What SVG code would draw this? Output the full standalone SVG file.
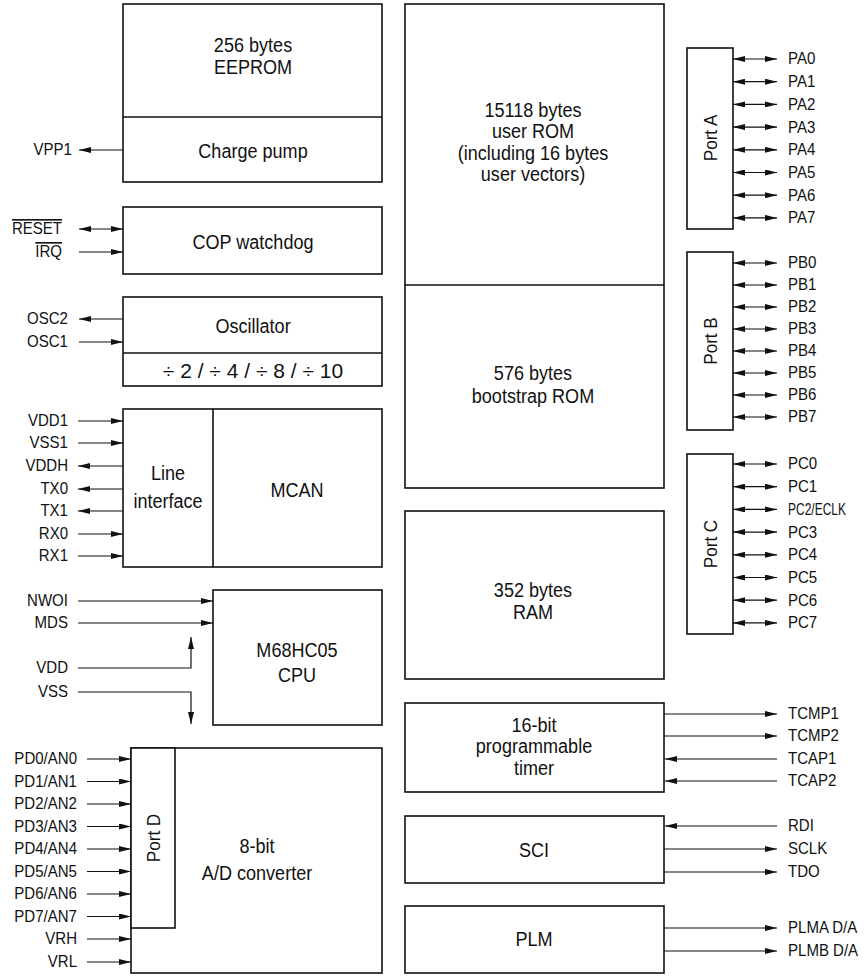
<svg xmlns="http://www.w3.org/2000/svg" width="866" height="976" viewBox="0 0 866 976">
<style>
.box{fill:#fff;stroke:#111;stroke-width:1.6}
.dv{stroke:#111;stroke-width:1.6;fill:none}
.t{font-family:"Liberation Sans",Arial,sans-serif;font-size:21px;fill:#111;text-anchor:middle;transform:scaleX(0.86);transform-box:fill-box;transform-origin:center}
.d{font-family:"Liberation Sans",Arial,sans-serif;font-size:21px;fill:#111;text-anchor:middle}
.pt{font-family:"Liberation Sans",Arial,sans-serif;font-size:19px;fill:#111;text-anchor:middle}
.p{font-family:"Liberation Sans",Arial,sans-serif;font-size:16px;fill:#111;transform:scaleX(0.94);transform-box:fill-box;transform-origin:left center}
.r{text-anchor:end;transform-origin:right center}
.w{stroke:#111;stroke-width:1.2;fill:none;marker-end:url(#ah)}
.b{marker-start:url(#ah)}
</style>
<defs>
<marker id="ah" markerWidth="12" markerHeight="6" refX="12" refY="3" orient="auto-start-reverse" markerUnits="userSpaceOnUse"><path d="M0,0 L12,3 L0,6 z" fill="#111"/></marker>
</defs>

<g id="eeprom">
<rect class="box" x="123" y="4" width="259" height="178"/>
<line class="dv" x1="123" y1="117" x2="382" y2="117"/>
<text class="t" x="253" y="52"><tspan x="253">256 bytes</tspan><tspan x="253" dy="22">EEPROM</tspan></text>
<text class="t" x="253" y="158">Charge pump</text>
</g>
<g id="cop">
<rect class="box" x="123" y="207" width="259" height="67"/>
<text class="t" x="253" y="249">COP watchdog</text>
</g>
<g id="osc">
<rect class="box" x="123" y="297" width="259" height="89"/>
<line class="dv" x1="123" y1="353" x2="382" y2="353"/>
<text class="t" x="253" y="333">Oscillator</text>
<text class="d" x="253" y="378">÷ 2 / ÷ 4 / ÷ 8 / ÷ 10</text>
</g>
<g id="mcan">
<rect class="box" x="123" y="409" width="259" height="158"/>
<line class="dv" x1="213" y1="409" x2="213" y2="567"/>
<text class="t" x="168" y="480"><tspan x="168">Line</tspan><tspan x="168" dy="28">interface</tspan></text>
<text class="t" x="297" y="497">MCAN</text>
</g>
<g id="cpu">
<rect class="box" x="213" y="590" width="169" height="135"/>
<text class="t" x="297" y="657"><tspan x="297">M68HC05</tspan><tspan x="297" dy="25">CPU</tspan></text>
</g>
<g id="adc">
<rect class="box" x="131" y="748" width="251" height="225"/>
<rect class="box" x="131" y="748" width="44" height="180"/>
<text class="pt" transform="translate(153,838) rotate(-90) scale(0.9,1)" y="7">Port D</text>
<text class="t" x="257" y="853"><tspan x="257">8-bit</tspan><tspan x="257" dy="27">A/D converter</tspan></text>
</g>
<g id="rom">
<rect class="box" x="405" y="4" width="259" height="484"/>
<line class="dv" x1="405" y1="285" x2="664" y2="285"/>
<text class="t" x="533" y="117"><tspan x="533">15118 bytes</tspan><tspan x="533" dy="21.3">user ROM</tspan><tspan x="533" dy="21.3">(including 16 bytes</tspan><tspan x="533" dy="21.3">user vectors)</tspan></text>
<text class="t" x="533" y="380"><tspan x="533">576 bytes</tspan><tspan x="533" dy="23">bootstrap ROM</tspan></text>
</g>
<g id="ram">
<rect class="box" x="405" y="511" width="259" height="168"/>
<text class="t" x="533" y="597"><tspan x="533">352 bytes</tspan><tspan x="533" dy="22">RAM</tspan></text>
</g>
<g id="timer">
<rect class="box" x="405" y="703" width="259" height="89"/>
<text class="t" x="534" y="732"><tspan x="534">16-bit</tspan><tspan x="534" dy="21.5">programmable</tspan><tspan x="534" dy="21.5">timer</tspan></text>
</g>
<g id="sci">
<rect class="box" x="405" y="816" width="259" height="67"/>
<text class="t" x="534" y="857">SCI</text>
</g>
<g id="plm">
<rect class="box" x="405" y="906" width="259" height="67"/>
<text class="t" x="534" y="946">PLM</text>
</g>
<g id="porta">
<rect class="box" x="687" y="48" width="46" height="181"/>
<text class="pt" transform="translate(710,138) rotate(-90) scale(0.9,1)" y="7">Port A</text>
</g>
<g id="portb">
<rect class="box" x="687" y="252" width="46" height="178"/>
<text class="pt" transform="translate(710,341) rotate(-90) scale(0.9,1)" y="7">Port B</text>
</g>
<g id="portc">
<rect class="box" x="687" y="454" width="46" height="180"/>
<text class="pt" transform="translate(710,544) rotate(-90) scale(0.9,1)" y="7">Port C</text>
</g>

<g id="connectors">
<path class="w" d="M123,150H79"/>
<path class="w b" d="M79,229H123"/>
<path class="w" d="M79,252H123"/>
<path class="w" d="M123,319H79"/>
<path class="w" d="M79,342H123"/>
<path class="w" d="M78,421H123"/>
<path class="w" d="M78,443H123"/>
<path class="w" d="M123,466H78"/>
<path class="w" d="M123,489H78"/>
<path class="w" d="M123,511H78"/>
<path class="w" d="M78,534H123"/>
<path class="w" d="M78,556H123"/>
<path class="w" d="M78,601H213"/>
<path class="w" d="M78,623H213"/>
<path class="w" d="M78,668H191V637"/>
<path class="w" d="M78,692H191V724"/>
<path class="w" d="M87,759H131"/>
<path class="w" d="M87,781.5H131"/>
<path class="w" d="M87,804H131"/>
<path class="w" d="M87,826.5H131"/>
<path class="w" d="M87,849H131"/>
<path class="w" d="M87,871.5H131"/>
<path class="w" d="M87,894H131"/>
<path class="w" d="M87,916.5H131"/>
<path class="w" d="M87,939H131"/>
<path class="w" d="M87,962H131"/>
<path class="w b" d="M733,59H777"/>
<path class="w b" d="M733,81.7H777"/>
<path class="w b" d="M733,104.4H777"/>
<path class="w b" d="M733,127.1H777"/>
<path class="w b" d="M733,149.8H777"/>
<path class="w b" d="M733,172.5H777"/>
<path class="w b" d="M733,195.2H777"/>
<path class="w b" d="M733,217.9H777"/>
<path class="w b" d="M733,263H777"/>
<path class="w b" d="M733,285H777"/>
<path class="w b" d="M733,307H777"/>
<path class="w b" d="M733,329H777"/>
<path class="w b" d="M733,351H777"/>
<path class="w b" d="M733,373H777"/>
<path class="w b" d="M733,395H777"/>
<path class="w b" d="M733,417H777"/>
<path class="w b" d="M733,464H777"/>
<path class="w b" d="M733,486.7H777"/>
<path class="w b" d="M733,509.4H777"/>
<path class="w b" d="M733,532.1H777"/>
<path class="w b" d="M733,554.8H777"/>
<path class="w b" d="M733,577.5H777"/>
<path class="w b" d="M733,600.2H777"/>
<path class="w b" d="M733,622.9H777"/>
<path class="w" d="M664,714H777"/>
<path class="w" d="M664,736H777"/>
<path class="w" d="M777,759H665"/>
<path class="w" d="M777,781H665"/>
<path class="w" d="M777,826H665"/>
<path class="w" d="M664,849H777"/>
<path class="w" d="M664,872H777"/>
<path class="w" d="M664,928H777"/>
<path class="w" d="M664,951H777"/>
</g>

<g id="pin-labels">
<text class="p r" x="72" y="155.5">VPP1</text>
<text class="p r" x="62" y="234.5" text-decoration="overline">RESET</text>
<text class="p r" x="62" y="257.5" text-decoration="overline">IRQ</text>
<text class="p r" x="68" y="324.5">OSC2</text>
<text class="p r" x="68" y="347.5">OSC1</text>
<text class="p r" x="68" y="426.5">VDD1</text>
<text class="p r" x="68" y="448.5">VSS1</text>
<text class="p r" x="68" y="471.5">VDDH</text>
<text class="p r" x="68" y="494.5">TX0</text>
<text class="p r" x="68" y="516.5">TX1</text>
<text class="p r" x="68" y="539.5">RX0</text>
<text class="p r" x="68" y="561.5">RX1</text>
<text class="p r" x="68" y="606.5">NWOI</text>
<text class="p r" x="68" y="628.5">MDS</text>
<text class="p r" x="68" y="673.5">VDD</text>
<text class="p r" x="68" y="697.5">VSS</text>
<text class="p r" x="77" y="764.5">PD0/AN0</text>
<text class="p r" x="77" y="787">PD1/AN1</text>
<text class="p r" x="77" y="809.5">PD2/AN2</text>
<text class="p r" x="77" y="832">PD3/AN3</text>
<text class="p r" x="77" y="854.5">PD4/AN4</text>
<text class="p r" x="77" y="877">PD5/AN5</text>
<text class="p r" x="77" y="899.5">PD6/AN6</text>
<text class="p r" x="77" y="922">PD7/AN7</text>
<text class="p r" x="77" y="944.5">VRH</text>
<text class="p r" x="77" y="967.5">VRL</text>
<text class="p" x="788" y="64.5">PA0</text>
<text class="p" x="788" y="87.2">PA1</text>
<text class="p" x="788" y="109.9">PA2</text>
<text class="p" x="788" y="132.6">PA3</text>
<text class="p" x="788" y="155.3">PA4</text>
<text class="p" x="788" y="178">PA5</text>
<text class="p" x="788" y="200.7">PA6</text>
<text class="p" x="788" y="223.4">PA7</text>
<text class="p" x="788" y="268.5">PB0</text>
<text class="p" x="788" y="290.5">PB1</text>
<text class="p" x="788" y="312.5">PB2</text>
<text class="p" x="788" y="334.5">PB3</text>
<text class="p" x="788" y="356.5">PB4</text>
<text class="p" x="788" y="378.5">PB5</text>
<text class="p" x="788" y="400.5">PB6</text>
<text class="p" x="788" y="422.5">PB7</text>
<text class="p" x="788" y="469.5">PC0</text>
<text class="p" x="788" y="492.2">PC1</text>
<text class="p" x="788" y="514.9" style="transform:none" textLength="58" lengthAdjust="spacingAndGlyphs">PC2/ECLK</text>
<text class="p" x="788" y="537.6">PC3</text>
<text class="p" x="788" y="560.3">PC4</text>
<text class="p" x="788" y="583">PC5</text>
<text class="p" x="788" y="605.7">PC6</text>
<text class="p" x="788" y="628.4">PC7</text>
<text class="p" x="788" y="719.5">TCMP1</text>
<text class="p" x="788" y="741.5">TCMP2</text>
<text class="p" x="788" y="764.5">TCAP1</text>
<text class="p" x="788" y="786.5">TCAP2</text>
<text class="p" x="788" y="831.5">RDI</text>
<text class="p" x="788" y="854.5">SCLK</text>
<text class="p" x="788" y="877.5">TDO</text>
<text class="p" x="788" y="933.5">PLMA D/A</text>
<text class="p" x="788" y="956.5">PLMB D/A</text>
</g>
</svg>
